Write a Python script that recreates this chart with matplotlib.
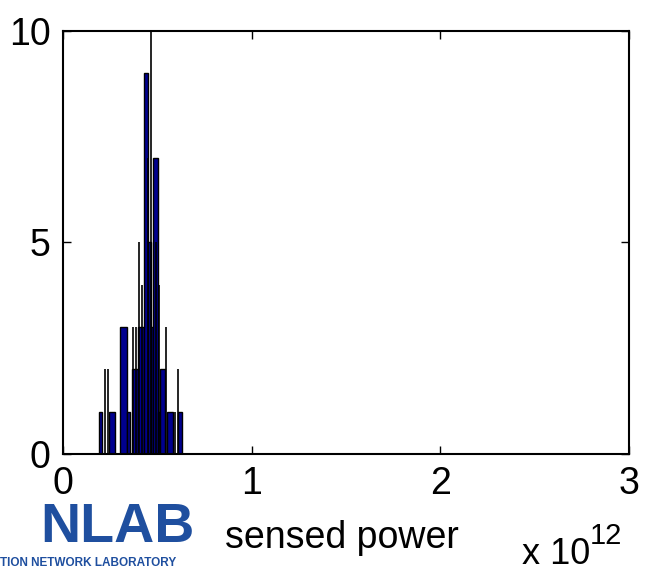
import matplotlib
matplotlib.use("Agg")
import matplotlib.pyplot as plt

plt.rcParams['font.family'] = ['Liberation Sans', 'DejaVu Sans']

# histogram bars (sensed power in units of 1e12, counts)
bar_x = [0.200, 0.260, 0.320, 0.346, 0.383, 0.413, 0.441, 0.458, 0.4725, 0.490, 0.508, 0.528, 0.567, 0.620]
bar_w = [0.017, 0.032, 0.035, 0.018, 0.032, 0.030, 0.023, 0.014, 0.012, 0.023, 0.012, 0.030, 0.035, 0.018]
bar_h = [1, 1, 3, 1, 2, 3, 9, 5, 3, 7, 1, 2, 1, 1]

# very narrow bins drawn as spikes
spike_x = [0.224, 0.240, 0.369, 0.387, 0.401, 0.417, 0.452, 0.465, 0.495, 0.510, 0.546, 0.594, 0.608]
spike_h = [2, 2, 3, 3, 5, 4, 7, 10, 5, 4, 3, 1, 2]

xticks = [0, 1, 2, 3]
yticks = [0, 5, 10]

fig = plt.figure(figsize=(6.45, 5.73), dpi=100)
W, H = 645, 573
ax = fig.add_axes([63 / W, 1 - 454 / H, (629 - 63) / W, (454 - 31) / H])

ax.bar(bar_x, bar_h, width=bar_w, color='#00008F', edgecolor='black', linewidth=1.0)
ax.vlines(spike_x, 0, spike_h, color='black', linewidth=1.2)

ax.set_xlim(0, 3)
ax.set_ylim(0, 10)
ax.set_xticks(xticks)
ax.set_yticks(yticks)
ax.tick_params(direction='in', length=6, width=1, top=True, right=True,
               labelsize=27)
ax.tick_params(axis='x', pad=9)
ax.tick_params(axis='y', pad=9)
for s in ax.spines.values():
    s.set_linewidth(1.5)

fig.text(342 / W, 1 - 538 / H, 'sensed power', fontsize=27, ha='center', va='center')
fig.text(522 / W, 1 - 572 / H, 'x 10', fontsize=26, ha='left', va='bottom')
fig.text(590 / W, 1 - 536 / H, '12', fontsize=21, ha='left', va='center')

# logo approximation
fig.text(195 / W, 1 - 542 / H, 'NLAB', fontsize=40, fontweight='bold', color='#1f4f9f',
         ha='right', va='baseline')
fig.text(0 / W, 1 - 563 / H, 'TION NETWORK LABORATORY', fontsize=8.5, fontweight='bold',
         color='#1f4f9f', ha='left', va='center')

fig.savefig('out.png', dpi=100)
